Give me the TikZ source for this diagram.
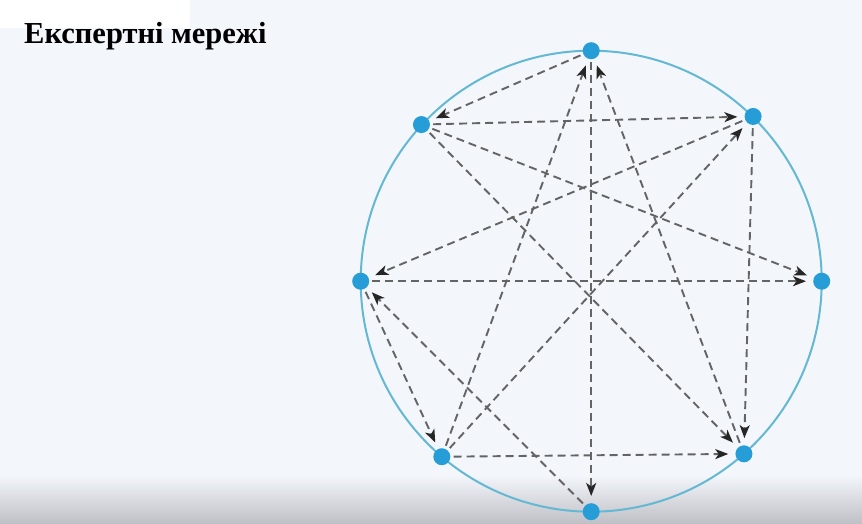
\documentclass[tikz,border=0pt]{standalone}
\usepackage{fontspec}
\setmainfont{Liberation Serif}
\usetikzlibrary{arrows.meta}
\definecolor{bgblue}{RGB}{243,246,251}
\definecolor{ringblue}{RGB}{100,184,212}
\definecolor{dotblue}{RGB}{38,157,214}
\definecolor{linegray}{RGB}{100,100,100}

\begin{document}
\begin{tikzpicture}[x=1pt, y=1pt, >={Stealth[length=13pt, width=10pt, inset=3.5pt, color=black!85]}]
  \tikzstyle{expert} = [circle, fill=dotblue, inner sep=0pt, minimum size=17pt]
  \tikzstyle{link} = [->, draw=linegray, line width=1.9pt, dash pattern=on 8pt off 5pt, shorten >=7pt, shorten <=3pt]

  % background
  \fill[bgblue] (0,0) rectangle (862,523);
  \fill[white] (0,495) rectangle (190,523);
  \shade[top color=bgblue, bottom color={rgb,255:red,192;green,193;blue,199}] (0,0) rectangle (862,48);

  \node[anchor=base west, inner sep=0pt, font=\bfseries\fontsize{30.5}{33}\selectfont] (title) at (24,479) {Експертні мережі};

  \begin{scope}[shift={(591.2,241.8)}]
    \draw[ringblue, line width=2pt] (0,0) circle[radius=230.5pt];
    \node[expert] (top) at (90:230.5) {};
    \node[expert] (ur) at (45.5:231) {};
    \node[expert] (rt) at (0:230.5) {};
    \node[expert] (lr) at (-48.5:230.5) {};
    \node[expert] (bot) at (-90:230.5) {};
    \node[expert] (ll) at (-130.4:230.5) {};
    \node[expert] (lt) at (180:230.5) {};
    \node[expert] (ul) at (137.3:231) {};
  \end{scope}

  \draw[link] (top) -- (ul);
  \draw[link] (top) -- (bot);
  \draw[link] (ul) -- (ur);
  \draw[link] (ul) -- (rt);
  \draw[link] (ul) -- (lr);
  \draw[link] (ur) -- (lt);
  \draw[link] (ur) -- (lr);
  \draw[link] (lt) -- (rt);
  \draw[link] (lt) -- (ll);
  \draw[link] (bot) -- (lt);
  \draw[link] (ll) -- (top);
  \draw[link] (ll) -- (ur);
  \draw[link] (ll) -- (lr);
  \draw[link] (lr) -- (top);
\end{tikzpicture}
\end{document}
